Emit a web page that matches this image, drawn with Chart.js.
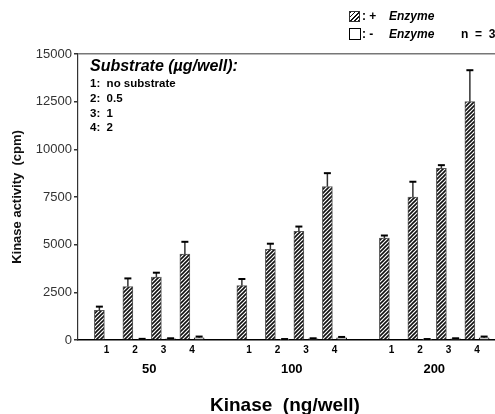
<!DOCTYPE html>
<html>
<head>
<meta charset="utf-8">
<script src="https://cdn.jsdelivr.net/npm/chart.js@4.4.0/dist/chart.umd.min.js"></script>
<style>
html, body { margin: 0; padding: 0; overflow: hidden; background: #fff; }
#wrap { position: relative; width: 520px; height: 414px; }
.t { position: absolute; font-family: 'Liberation Sans', Arial, sans-serif; font-weight: bold; color: #000; white-space: pre; line-height: 1; }
.i { font-style: italic; }
.box { position: absolute; box-sizing: border-box; }
</style>
</head>
<body>
<div id="wrap">
  <canvas id="kinaseChart" width="520" height="414"></canvas>

  <div class="box" style="left:349px;top:11px;width:11px;height:11px;border:1px solid #333;background:repeating-linear-gradient(135deg,#111 0 1.2px,#fff 1.2px 3px);"></div>
  <div class="t" style="left:362px;top:10px;font-size:12px;">: +</div>
  <div class="t i" style="left:389px;top:10px;font-size:12px;">Enzyme</div>
  <div class="box" style="left:349px;top:28px;width:12px;height:12px;border:1.5px solid #000;background:#fff;"></div>
  <div class="t" style="left:362px;top:28px;font-size:12px;">: -</div>
  <div class="t i" style="left:389px;top:28px;font-size:12px;">Enzyme</div>
  <div class="t" style="left:461px;top:28px;font-size:12px;">n  =  3</div>

  <div class="t i" style="left:90px;top:58px;font-size:16px;">Substrate (µg/well):</div>
  <div class="t" style="left:90px;top:78px;font-size:11.5px;">1:  no substrate</div>
  <div class="t" style="left:90px;top:93px;font-size:11.5px;">2:  0.5</div>
  <div class="t" style="left:90px;top:108px;font-size:11.5px;">3:  1</div>
  <div class="t" style="left:90px;top:122px;font-size:11.5px;">4:  2</div>

  <div class="t" style="left:210px;top:395px;font-size:19px;">Kinase  (ng/well)</div>
</div>
<script>
// kinase amount groups and substrate doses
const groups = ['50', '100', '200'];
const substrates = ['1', '2', '3', '4'];

// + Enzyme (hatched) and - Enzyme (open), 4 substrates per group
const plusEnzyme = [1550, 2800, 3300, 4500, 2850, 4750, 5700, 8050, 5350, 7500, 9000, 12500];
const plusErr = [200, 430, 230, 650, 350, 300, 250, 700, 130, 800, 170, 1650];
const minusEnzyme = [0, 40, 60, 120, 0, 30, 60, 110, 0, 30, 60, 120];
const minusErr = [0, 20, 30, 60, 0, 20, 30, 50, 0, 20, 30, 60];

const yTicks = [0, 2500, 5000, 7500, 10000, 12500, 15000];

// each group takes 5 slots on the x scale, pairs sit on slots 1..4
function slot(i) {
    return Math.floor(i / 4) * 5 + (i % 4) + 1;
}
const pairTicks = plusEnzyme.map((v, i) => slot(i));
const groupTicks = groups.map((g, i) => i * 5 + 2.5);

function hatch() {
    let p = document.createElement('canvas');
    p.width = 4; p.height = 4;
    let g = p.getContext('2d');
    g.fillStyle = '#fff';
    g.fillRect(0, 0, 4, 4);
    g.strokeStyle = '#111';
    g.lineWidth = 1.6;
    g.beginPath();
    g.moveTo(0, 4); g.lineTo(4, 0);
    g.moveTo(-1, 1); g.lineTo(1, -1);
    g.moveTo(3, 5); g.lineTo(5, 3);
    g.stroke();
    return g.createPattern(p, 'repeat');
}

const errorBars = {
    id: 'errorBars',
    afterDatasetsDraw(chart) {
        let c = chart.ctx;
        let y = chart.scales.y;
        chart.data.datasets.forEach((ds, i) => {
            chart.getDatasetMeta(i).data.forEach((bar, j) => {
                let e = ds.errors[j];
                if (!e) return;
                let top = y.getPixelForValue(ds.data[j].y + e);
                c.save();
                c.strokeStyle = '#333';
                c.lineWidth = 1.5;
                c.beginPath();
                c.moveTo(bar.x, bar.y);
                c.lineTo(bar.x, top);
                c.stroke();
                c.strokeStyle = '#000';
                c.lineWidth = 2;
                c.beginPath();
                c.moveTo(bar.x - 3.5, top);
                c.lineTo(bar.x + 3.5, top);
                c.stroke();
                c.restore();
            });
        });
    }
};

Chart.defaults.font.family = "'Liberation Sans', Arial, sans-serif";

new Chart(document.getElementById('kinaseChart'), {
    type: 'bar',
    data: {
        datasets: [
            {
                label: '+ Enzyme',
                data: plusEnzyme.map((v, i) => ({ x: slot(i) - 0.25, y: v })),
                errors: plusErr,
                backgroundColor: hatch(),
                borderColor: '#555',
                borderWidth: 1
            },
            {
                label: '- Enzyme',
                data: minusEnzyme.map((v, i) => ({ x: slot(i) + 0.25, y: v })),
                errors: minusErr,
                backgroundColor: '#fff',
                borderColor: '#000',
                borderWidth: 1
            }
        ]
    },
    options: {
        responsive: false,
        animation: false,
        grouped: false,
        barThickness: 10,
        layout: { padding: { top: 54, right: 14.5, left: 0, bottom: 0 } },
        plugins: { legend: { display: false }, tooltip: { enabled: false } },
        scales: {
            x: {
                type: 'linear', min: 0, max: 15, offset: false, position: 'bottom', weight: 0,
                grid: { display: false, drawTicks: false, offset: false },
                border: { display: true, color: '#000', width: 1.5 },
                afterBuildTicks: s => { s.ticks = pairTicks.map(v => ({ value: v })); },
                ticks: {
                    autoSkip: false, maxRotation: 0, padding: 4, color: '#000',
                    font: { size: 10, weight: 'bold' },
                    callback: v => substrates[(v - 1) % 5]
                },
                afterFit: s => { s.height = 20; }
            },
            x2: {
                type: 'linear', min: 0, max: 15, offset: false, position: 'bottom', weight: 1,
                grid: { display: false, drawTicks: false, offset: false },
                border: { display: false },
                afterBuildTicks: s => { s.ticks = groupTicks.map(v => ({ value: v })); },
                ticks: {
                    autoSkip: false, maxRotation: 0, padding: 2, color: '#000',
                    font: { size: 13, weight: 'bold' },
                    callback: v => groups[Math.floor(v / 5)]
                },
                afterFit: s => { s.height = 54; }
            },
            y: {
                min: 0, max: 15000,
                afterBuildTicks: s => { s.ticks = yTicks.map(v => ({ value: v })); },
                grid: {
                    color: c => (c.tick && c.tick.value === 15000) ? '#777' : 'rgba(0,0,0,0)',
                    tickColor: '#333', tickLength: 4, lineWidth: 1.5
                },
                border: { color: '#333', width: 1.2 },
                ticks: { padding: 2, color: '#333', font: { size: 13 }, callback: v => String(v) },
                title: {
                    display: true, text: 'Kinase activity  (cpm)', color: '#111',
                    font: { size: 13, weight: 'bold' }, padding: { top: 10, bottom: 0 }
                },
                afterFit: s => { s.width = 78; }
            }
        }
    },
    plugins: [errorBars]
});
</script>
</body>
</html>
